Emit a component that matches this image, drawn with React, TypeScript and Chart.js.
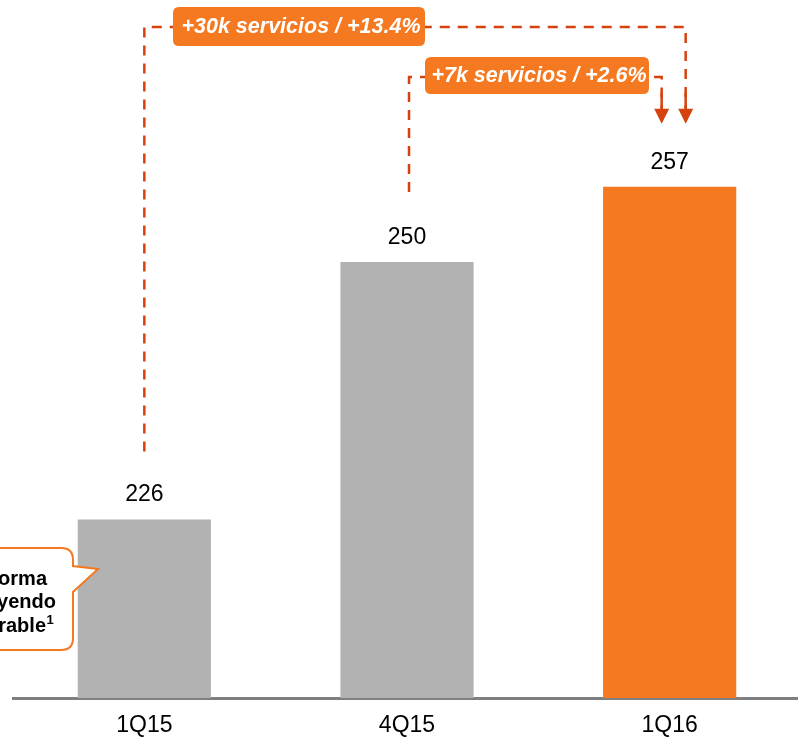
import React, { useEffect, useRef } from "react";
import { Chart, registerables } from "chart.js";

Chart.register(...registerables);

const categories = ["1Q15", "4Q15", "1Q16"];
const values = [226, 250, 257];
const barColors = ["#B2B2B2", "#B2B2B2", "#F47920"];
const bracketLabels = ["+30k servicios / +13.4%", "+7k servicios / +2.6%"];
const calloutLines = ["Proforma", "incluyendo", "comparable"];

const FONT = "'Liberation Sans', Arial, Helvetica, sans-serif";
const LINE_COLOR = "#D5420E";
const ORANGE = "#F47920";

function roundRect(ctx: CanvasRenderingContext2D, x0: number, y0: number, x1: number, y1: number, r: number) {
  ctx.beginPath();
  ctx.moveTo(x0 + r, y0);
  ctx.lineTo(x1 - r, y0);
  ctx.quadraticCurveTo(x1, y0, x1, y0 + r);
  ctx.lineTo(x1, y1 - r);
  ctx.quadraticCurveTo(x1, y1, x1 - r, y1);
  ctx.lineTo(x0 + r, y1);
  ctx.quadraticCurveTo(x0, y1, x0, y1 - r);
  ctx.lineTo(x0, y0 + r);
  ctx.quadraticCurveTo(x0, y0, x0 + r, y0);
  ctx.closePath();
}

const annotPlugin = {
  id: "annot",
  afterDraw(chart: any) {
    const ctx: CanvasRenderingContext2D = chart.ctx;
    const bars = chart.getDatasetMeta(0).data;
    ctx.save();

    // value labels
    ctx.font = `23px ${FONT}`;
    ctx.fillStyle = "#000";
    ctx.textAlign = "center";
    ctx.textBaseline = "middle";
    bars.forEach((b: any, i: number) => {
      ctx.fillText(String(values[i]), b.x, b.y - 24.5);
    });

    // brackets
    const brackets = [
      { from: 0, to: 2, fromDx: 0, toDx: 16, level: 27, startGap: 68, box: [173, 7, 425, 46], label: bracketLabels[0] },
      { from: 1, to: 2, fromDx: 2, toDx: -8, level: 77, startGap: 70, box: [425, 57, 649, 94], label: bracketLabels[1] },
    ];
    brackets.forEach((br) => {
      const a = bars[br.from];
      const b = bars[br.to];
      const x0 = a.x + br.fromDx;
      const y0 = a.y - br.startGap;
      const x1 = b.x + br.toDx;
      const tipY = b.y - 63;
      const headH = 15;
      const headW = 15;
      ctx.strokeStyle = LINE_COLOR;
      ctx.lineWidth = 2.5;
      ctx.setLineDash([10, 8]);
      ctx.beginPath();
      ctx.moveTo(x0, y0);
      ctx.lineTo(x0, br.level);
      ctx.lineTo(x1, br.level);
      ctx.lineTo(x1, tipY - headH);
      ctx.stroke();
      ctx.setLineDash([]);
      ctx.beginPath();
      ctx.moveTo(x1, tipY - headH - 16);
      ctx.lineTo(x1, tipY - headH + 1);
      ctx.stroke();
      ctx.fillStyle = LINE_COLOR;
      ctx.beginPath();
      ctx.moveTo(x1 - headW / 2, tipY - headH);
      ctx.lineTo(x1 + headW / 2, tipY - headH);
      ctx.lineTo(x1, tipY);
      ctx.closePath();
      ctx.fill();
      const [bx0, by0, bx1, by1] = br.box;
      ctx.fillStyle = ORANGE;
      roundRect(ctx, bx0, by0, bx1, by1, 6);
      ctx.fill();
      ctx.fillStyle = "#fff";
      ctx.font = `italic bold 21.5px ${FONT}`;
      ctx.textAlign = "center";
      ctx.textBaseline = "middle";
      ctx.fillText(br.label, (bx0 + bx1) / 2 + 2, (by0 + by1) / 2 + 1);
    });

    // callout bubble
    ctx.strokeStyle = ORANGE;
    ctx.lineWidth = 2;
    ctx.fillStyle = "#fff";
    const cx0 = -40, cy0 = 548, cx1 = 73, cy1 = 650, r = 12;
    ctx.beginPath();
    ctx.moveTo(cx0, cy0);
    ctx.lineTo(cx1 - r, cy0);
    ctx.quadraticCurveTo(cx1, cy0, cx1, cy0 + r);
    ctx.lineTo(cx1, 566);
    ctx.lineTo(98, 569);
    ctx.lineTo(cx1, 592);
    ctx.lineTo(cx1, cy1 - r);
    ctx.quadraticCurveTo(cx1, cy1, cx1 - r, cy1);
    ctx.lineTo(cx0, cy1);
    ctx.closePath();
    ctx.fill();
    ctx.stroke();

    ctx.fillStyle = "#000";
    ctx.font = `bold 20px ${FONT}`;
    ctx.textAlign = "right";
    ctx.textBaseline = "alphabetic";
    ctx.fillText(calloutLines[0], 47, 585);
    ctx.fillText(calloutLines[1], 56, 608);
    ctx.fillText(calloutLines[2], 46, 632);
    ctx.font = `bold 13px ${FONT}`;
    ctx.textAlign = "left";
    ctx.fillText("1", 46.5, 624);

    ctx.restore();
  },
};

export default function App() {
  const ref = useRef<HTMLCanvasElement | null>(null);
  useEffect(() => {
    if (!ref.current) return;
    const chart = new Chart(ref.current, {
      type: "bar",
      data: {
        labels: categories,
        datasets: [
          {
            data: values,
            backgroundColor: barColors,
            borderWidth: 0,
            categoryPercentage: 1,
            barPercentage: 0.507,
          },
        ],
      },
      options: {
        responsive: false,
        animation: false,
        events: [],
        layout: { padding: { left: 13, right: 0, top: 0, bottom: 0 } },
        plugins: { legend: { display: false }, tooltip: { enabled: false } },
        scales: {
          x: {
            z: 1,
            grid: { display: false },
            border: { display: true, color: "#7F7F7F", width: 3 },
            ticks: { color: "#000", font: { family: FONT, size: 23 }, padding: 5.7 },
          },
          y: {
            display: false,
            min: 209.38,
            max: 274.4,
          },
        },
      },
      plugins: [annotPlugin],
    });
    return () => chart.destroy();
  }, []);
  return (
    <div style={{ position: "absolute", left: 0, top: 0, width: 798, height: 739, overflow: "hidden", background: "#fff" }}>
      <canvas ref={ref} width={801} height={745} style={{ position: "absolute", left: 0, top: 0, width: 801, height: 745 }} />
    </div>
  );
}
